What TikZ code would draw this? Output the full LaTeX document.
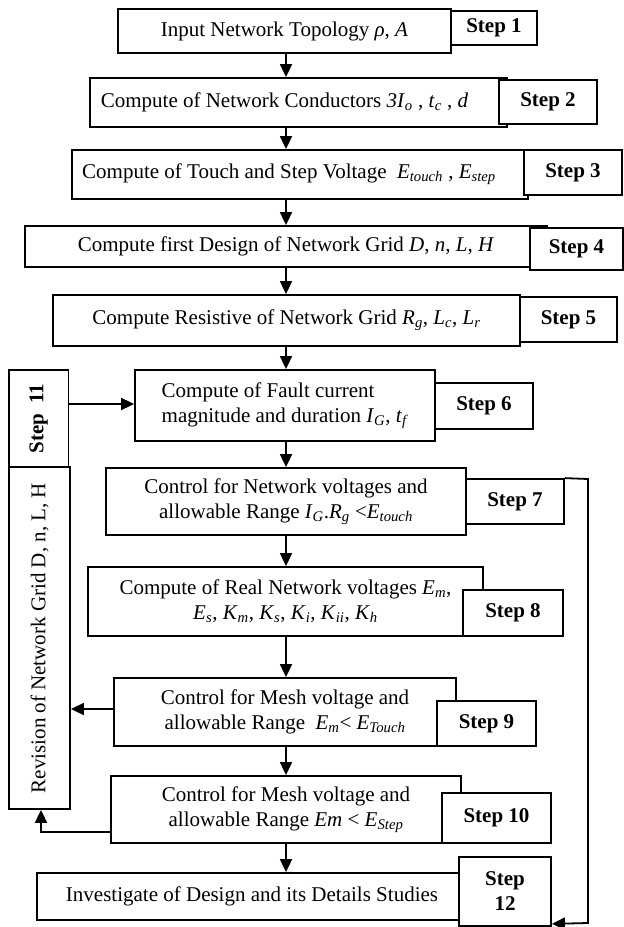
\documentclass[tikz,border=0pt]{standalone}
\usepackage{fontspec}
\usepackage{graphicx}
\setmainfont{Liberation Serif}
\usetikzlibrary{arrows.meta}
\newcommand\vsub[2]{\textit{#1}\textsubscript{\textit{#2}}}
\begin{document}
\begin{tikzpicture}[x=1pt,y=-1pt,
  box/.style={draw, line width=1.8pt, fill=white, inner sep=2pt,
    font=\fontsize{21}{25}\selectfont, align=center},
  stepbox/.style={box, font=\fontsize{21}{25}\selectfont\bfseries},
  arr/.style={line width=1.8pt, -{Triangle[length=13pt,width=12pt]}},
  ln/.style={line width=1.8pt}]
\useasboundingbox (0,0) rectangle (624,927);
\coordinate (ax) at (286,0);

% main boxes
\node[box, minimum width=333pt, minimum height=44pt] (b1) at (284.5,31)
  {Input Network Topology \textit{ρ}, \textit{A}};
\node[box, minimum width=417pt, minimum height=49pt] (b2) at (298.5,102.5)
  {\hspace*{-28pt}Compute of Network Conductors \vsub{3I}{o} , \vsub{t}{c} , \textit{d}};
\node[box, minimum width=456pt, minimum height=49pt] (b3) at (300,174.5)
  {\hspace*{-22pt}Compute of Touch and Step Voltage\ \ \vsub{E}{touch} , \vsub{E}{step}};
\node[box, minimum width=522pt, minimum height=41pt] (b4) at (286,246.5)
  {Compute first Design of Network Grid \textit{D}, \textit{n}, \textit{L}, \textit{H}};
\node[box, minimum width=467pt, minimum height=51pt] (b5) at (286.5,320.5)
  {Compute Resistive of Network Grid \vsub{R}{g}, \vsub{L}{c}, \vsub{L}{r}};
\node[box, minimum width=300pt, minimum height=71pt, align=left] (b6) at (285,405.5)
  {Compute of Fault current\\magnitude and duration \vsub{I}{G}, \vsub{t}{f}};
\node[box, minimum width=360pt, minimum height=67pt] (b7) at (286,501.5)
  {Control for Network voltages and\\allowable Range \vsub{I}{G}.\vsub{R}{g} <\vsub{E}{touch}};
\node[box, minimum width=395pt, minimum height=69pt] (b8) at (285.5,601.5)
  {Compute of Real Network voltages \vsub{E}{m},\\\vsub{E}{s}, \vsub{K}{m}, \vsub{K}{s}, \vsub{K}{i}, \vsub{K}{ii}, \vsub{K}{h}};
\node[box, minimum width=342pt, minimum height=68pt] (b9) at (285,712)
  {Control for Mesh voltage and\\allowable Range\ \ \vsub{E}{m}< \vsub{E}{Touch}};
\node[box, minimum width=350pt, minimum height=67pt] (b10) at (286,809.5)
  {Control for Mesh voltage and\\allowable Range \textit{Em} < \vsub{E}{Step}};
\node[box, minimum width=430pt, minimum height=47pt] (b11) at (252,896.5)
  {Investigate of Design and its Details Studies};

% left side boxes
\node[stepbox, minimum width=59.5pt, minimum height=97pt] (st11) at (38.75,418.5)
  {\rotatebox{90}{Step\ \ 11}};
\node[box, minimum width=61pt, minimum height=342pt] (rev) at (39.5,638)
  {\rotatebox{90}{Revision of Network Grid D, n, L, H}};

% vertical flow arrows
\draw[arr] (b1.south -| ax) -- (b2.north -| ax);
\draw[arr] (b2.south -| ax) -- (b3.north -| ax);
\draw[arr] (b3.south -| ax) -- (b4.north -| ax);
\draw[arr] (b4.south -| ax) -- (b5.north -| ax);
\draw[arr] (b5.south -| ax) -- (b6.north -| ax);
\draw[arr] (b6.south -| ax) -- (b7.north -| ax);
\draw[arr] (b7.south -| ax) -- (b8.north -| ax);
\draw[arr] (b8.south -| ax) -- (b9.north -| ax);
\draw[arr] (b9.south -| ax) -- (b10.north -| ax);
\draw[arr] (b10.south -| ax) -- (b11.north -| ax);

% side arrows
\draw[arr] ([yshift=14.5pt]st11.east) -- ([yshift=14.5pt]st11.east -| b6.west);
\draw[arr] ([yshift=3pt]b9.west) -- ([yshift=3pt]b9.west -| rev.east);
\draw[arr] ([yshift=-22.5pt]b10.west) -| ([xshift=1.5pt]rev.south);

% step boxes
\node[stepbox, minimum width=86pt, minimum height=34pt] (s1) at (494,28) {\raisebox{-4pt}{Step 1}};
\node[stepbox, minimum width=98pt, minimum height=44pt] (s2) at (548,102) {Step 2};
\node[stepbox, minimum width=98pt, minimum height=45pt] (s3) at (573,172.5) {Step 3};
\node[stepbox, minimum width=93pt, minimum height=42pt] (s4) at (576.5,249) {Step 4};
\node[stepbox, minimum width=97pt, minimum height=45pt] (s5) at (568.5,319.5) {Step 5};
\node[stepbox, minimum width=98pt, minimum height=46pt] (s6) at (484,406) {Step 6};
\node[stepbox, minimum width=98pt, minimum height=45pt] (s7) at (515,501.5) {Step 7};
\node[stepbox, minimum width=100pt, minimum height=46pt] (s8) at (513,613) {Step 8};
\node[stepbox, minimum width=99pt, minimum height=45pt] (s9) at (486.5,723.5) {Step 9};
\node[stepbox, minimum width=109pt, minimum height=50pt] (s10) at (496.5,818) {Step 10};
\node[stepbox, minimum width=92pt, minimum height=69pt] (s12) at (505,891.5) {Step\\12};

% feedback loop from step 7 to step 12
\coordinate (fbT) at (588,479);
\coordinate (fbB) at (588,923);
\draw[arr] (s7.north east) -- (fbT) -- (fbB) -- ([yshift=3pt]s12.south east);
\end{tikzpicture}
\end{document}
